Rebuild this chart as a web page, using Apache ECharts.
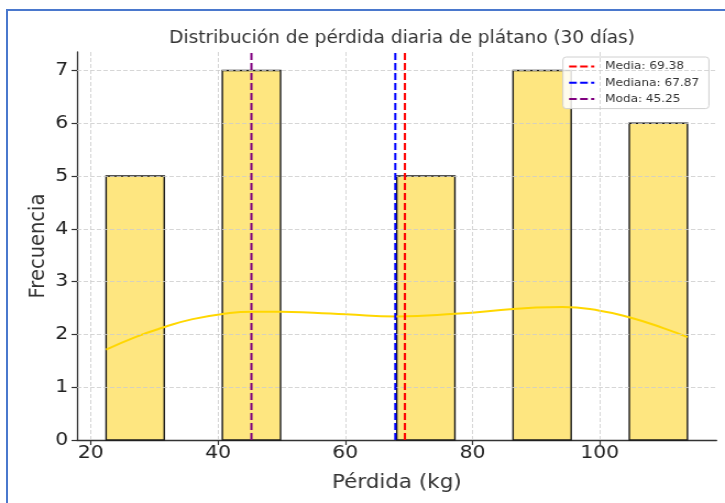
<!DOCTYPE html>
<html>
<head>
<meta charset="utf-8">
<script src="https://cdn.jsdelivr.net/npm/echarts@6/dist/echarts.min.js"></script>
<style>
html,body{margin:0;padding:0;background:#fff;overflow:hidden;}
#frame{position:absolute;left:6px;top:9px;width:900px;height:700px;border-left:2px solid #4a78cd;border-top:2px solid #4a78cd;box-sizing:border-box;}
#chart{position:absolute;left:0;top:0;width:659px;height:503px;transform:scaleX(1.10015);transform-origin:0 0;}
</style>
</head>
<body>
<div id="frame"></div>
<div id="chart"></div>
<script>
// Histogram bins (kg) and frequencies
const binEdges = [22.40, 31.54, 40.68, 49.82, 58.96, 68.10, 77.24, 86.38, 95.52, 104.66, 113.80];
const counts = [5, 0, 7, 0, 0, 5, 0, 7, 0, 6];
// KDE curve (scaled to counts)
const kdeX = [22.4, 27.0, 31.6, 36.0, 40.9, 45.4, 49.9, 55.0, 60.1, 68.1, 77.3, 86.4, 90.0, 94.1, 100.0, 104.5, 110.0, 113.8];
const kdeY = [1.71, 1.95, 2.14, 2.29, 2.39, 2.43, 2.43, 2.41, 2.38, 2.34, 2.39, 2.48, 2.51, 2.52, 2.45, 2.33, 2.12, 1.95];
// Statistics
const statNames = ['Media: 69.38', 'Mediana: 67.87', 'Moda: 45.25'];
const statValues = [69.38, 67.87, 45.25];
const statColors = ['#ff0000', '#0000ff', '#800080'];
const xTicks = [20, 40, 60, 80, 100];
const yTicks = [0, 1, 2, 3, 4, 5, 6, 7];
const xRange = [17.83, 118.37];
const yRange = [0, 7.35];

const FONT = 'DejaVu Sans';
const chart = echarts.init(document.getElementById('chart'), null, { renderer: 'canvas' });

const barData = counts.map((c, i) => [binEdges[i], binEdges[i + 1], c]).filter(d => d[2] > 0);

const gridStyle = { color: '#cccccc', type: [4, 2], width: 0.8 };

const series = [
  {
    type: 'custom',
    name: 'hist',
    z: 2,
    data: barData,
    renderItem: function (params, api) {
      const p0 = api.coord([api.value(0), api.value(2)]);
      const p1 = api.coord([api.value(1), 0]);
      return {
        type: 'rect',
        shape: { x: p0[0], y: p0[1], width: p1[0] - p0[0], height: p1[1] - p0[1] },
        style: { fill: '#fee680', stroke: '#1a1a1a', lineWidth: 1.4 }
      };
    },
    encode: { x: [0, 1], y: 2 },
    silent: true
  },
  {
    type: 'line',
    name: 'grid',
    z: 3,
    data: [],
    silent: true,
    markLine: {
      silent: true,
      symbol: 'none',
      animation: false,
      label: { show: false },
      lineStyle: gridStyle,
      data: xTicks.map(v => ({ xAxis: v })).concat(yTicks.filter(v => v > 0).map(v => ({ yAxis: v })))
    }
  },
  {
    type: 'line',
    name: 'kde',
    z: 4,
    data: kdeX.map((x, i) => [x, kdeY[i]]),
    smooth: 0.5,
    symbol: 'none',
    lineStyle: { color: '#ffd700', width: 2 },
    silent: true
  }
].concat(statNames.map((n, i) => ({
  type: 'line',
  name: n,
  z: 5,
  data: [[statValues[i], yRange[0]], [statValues[i], yRange[1]]],
  symbol: 'none',
  color: statColors[i],
  lineStyle: { color: statColors[i], width: 2, type: [7, 3] },
  silent: true
})));

chart.setOption({
  animation: false,
  backgroundColor: 'transparent',
  textStyle: { fontFamily: FONT },
  title: {
    text: 'Distribución de pérdida diaria de plátano (30 días)',
    left: 360.5,
    top: 25,
    textAlign: 'center',
    textStyle: { fontFamily: FONT, fontSize: 16.8, fontWeight: 'normal', color: '#333' }
  },
  legend: {
    data: statNames,
    orient: 'vertical',
    right: 14.6,
    top: 57,
    itemWidth: 23,
    itemHeight: 12,
    itemGap: 5.3,
    padding: [4, 9, 4, 4.6],
    backgroundColor: 'rgba(255,255,255,0.85)',
    borderColor: '#d0d0d0',
    borderWidth: 1,
    borderRadius: 3,
    itemStyle: { opacity: 0 },
    textStyle: { fontFamily: FONT, fontSize: 11, color: '#333', padding: [0, 0, 0, 4.7] }
  },
  grid: { left: 70, right: 7.7, top: 52, bottom: 63, containLabel: false },
  xAxis: {
    type: 'value',
    min: xRange[0],
    max: xRange[1],
    name: 'Pérdida (kg)',
    nameLocation: 'middle',
    nameGap: 33,
    nameMoveOverlap: false,
    nameTextStyle: { fontFamily: FONT, fontSize: 19.5, color: '#333' },
    axisLine: { show: true, onZero: false, lineStyle: { color: '#333', width: 1.3 } },
    axisTick: { show: true, customValues: xTicks, length: 5, lineStyle: { color: '#333', width: 1.2 } },
    axisLabel: { customValues: xTicks, fontFamily: FONT, fontSize: 18.5, color: '#222', margin: 4 },
    splitLine: { show: false }
  },
  yAxis: {
    type: 'value',
    min: yRange[0],
    max: yRange[1],
    name: 'Frecuencia',
    nameLocation: 'middle',
    nameGap: 25.5,
    nameMoveOverlap: false,
    nameTextStyle: { fontFamily: FONT, fontSize: 19.5, color: '#333' },
    axisLine: { show: true, onZero: false, lineStyle: { color: '#333', width: 1.3 } },
    axisTick: { show: true, customValues: yTicks, length: 5, lineStyle: { color: '#333', width: 1.2 } },
    axisLabel: { customValues: yTicks, fontFamily: FONT, fontSize: 18.5, color: '#222', margin: 8 },
    splitLine: { show: false }
  },
  series: series
});
</script>
</body>
</html>
